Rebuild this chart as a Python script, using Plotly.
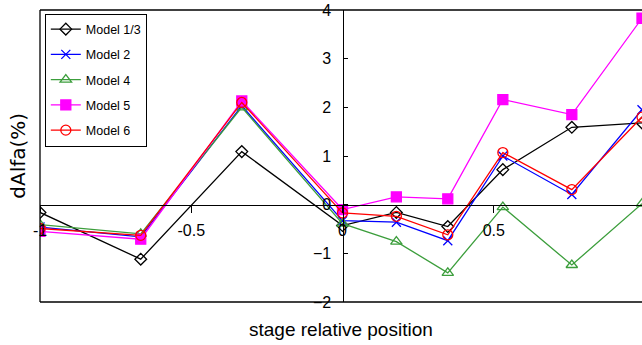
import plotly.graph_objects as go

x_pos = [-1.0, -0.667, -0.333, 0.0, 0.178, 0.348, 0.53, 0.758, 0.99]

model_13 = [-0.16, -1.12, 1.09, -0.43, -0.16, -0.45, 0.72, 1.59, 1.68]
model_2 = [-0.46, -0.66, 2.03, -0.33, -0.36, -0.74, 1.0, 0.21, 1.95]
model_4 = [-0.41, -0.60, 2.0, -0.39, -0.76, -1.40, -0.05, -1.24, 0.02]
model_5 = [-0.55, -0.71, 2.13, -0.10, 0.16, 0.12, 2.16, 1.85, 3.83]
model_6 = [-0.49, -0.63, 2.10, -0.17, -0.24, -0.62, 1.07, 0.31, 1.80]

names = ["Model 1/3", "Model 2", "Model 4", "Model 5", "Model 6"]
x_ticks = [-1, -0.5, 0, 0.5, 1]
x_tick_text = ["-1", "-0.5", "0", "0.5", "1"]
y_ticks = [-2, -1, 0, 1, 2, 3, 4]

FONT = "Liberation Sans, Arial, sans-serif"

styles = [
    dict(color="#000000", symbol="diamond-open", size=9),
    dict(color="#0000FF", symbol="x-thin", size=9),
    dict(color="#3C9E3C", symbol="triangle-up-open", size=10),
    dict(color="#FF00FF", symbol="square", size=10),
    dict(color="#FF0000", symbol="circle-open", size=10),
]

fig = go.Figure()
for i, (name, ys, st) in enumerate(zip(names, [model_13, model_2, model_4, model_5, model_6], styles)):
    fig.add_trace(go.Scatter(
        x=x_pos, y=ys, name=name, mode="lines+markers",
        legendgroup=f"g{i}",
        line=dict(color=st["color"], width=1.3),
        marker=dict(symbol=st["symbol"], size=st["size"], color=st["color"],
                    line=dict(color=st["color"], width=1.3)),
        cliponaxis=True,
    ))

fig.update_layout(
    width=642, height=345,
    margin=dict(l=40, r=0, t=10, b=43),
    paper_bgcolor="white", plot_bgcolor="white",
    font=dict(family=FONT, color="black"),
    showlegend=True,
    legend=dict(
        x=0.008, y=0.988, xanchor="left", yanchor="top",
        bgcolor="white", bordercolor="black", borderwidth=1,
        font=dict(family=FONT, size=12.5, color="black"),
        tracegroupgap=6, itemwidth=30,
    ),
    xaxis=dict(
        range=[-1, 0.99], anchor="free", position=1/3,
        showgrid=False, zeroline=False,
        showline=True, linecolor="black", linewidth=1.3,
        tickvals=x_ticks, ticktext=x_tick_text,
        ticks="outside", ticklen=7, tickcolor="black", tickwidth=1,
        tickfont=dict(family=FONT, size=16, color="black"),
        ticklabelstandoff=4,
    ),
    xaxis2=dict(
        range=[-1, 0.99], overlaying="x", anchor="free", position=1/3,
        showgrid=False, zeroline=False, showline=False,
        tickvals=x_ticks, showticklabels=False,
        ticks="inside", ticklen=6, tickcolor="black", tickwidth=1,
    ),
    yaxis=dict(
        range=[-2, 4], anchor="free", position=1/1.99,
        showgrid=False, zeroline=False,
        showline=True, linecolor="black", linewidth=1.3,
        tickvals=y_ticks,
        ticks="inside", ticklen=4, tickcolor="black", tickwidth=1,
        tickfont=dict(family=FONT, size=16, color="black"),
        ticklabelstandoff=8,
    ),
    shapes=[
        dict(type="line", xref="paper", yref="paper", x0=0, x1=1, y0=1, y1=1,
             line=dict(color="black", width=1.3)),
        dict(type="line", xref="paper", yref="paper", x0=0, x1=1, y0=0, y1=0,
             line=dict(color="black", width=1.3)),
        dict(type="line", xref="paper", yref="paper", x0=0, x1=0, y0=0, y1=1,
             line=dict(color="black", width=1.3)),
    ],
    annotations=[
        dict(text="stage relative position", xref="paper", yref="paper",
             x=0.5, y=-0.093, xanchor="center", yanchor="middle", showarrow=False,
             font=dict(family=FONT, size=19, color="black")),
        dict(text="dAlfa(%)", xref="paper", yref="paper",
             x=-0.037, y=0.5, xanchor="center", yanchor="middle", showarrow=False,
             textangle=-90, font=dict(family="DejaVu Sans, sans-serif", size=20, color="black")),
    ],
)

fig.write_html("out.html", config={"displayModeBar": False},
               post_script="document.body.style.margin='0';document.body.style.padding='0';")
